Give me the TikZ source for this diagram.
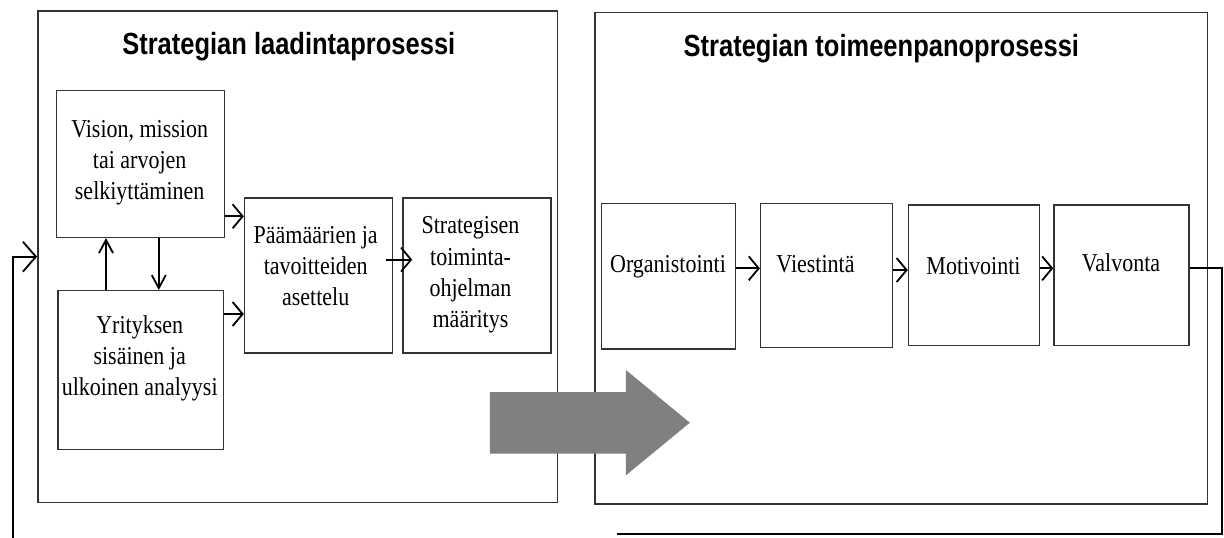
\documentclass[tikz,border=0pt]{standalone}
\usepackage{fontspec}
\setmainfont{Liberation Serif}
\newfontfamily\headfont{Liberation Sans}
\usepackage{graphicx}
\usetikzlibrary{arrows.meta}
\definecolor{flowgray}{RGB}{128,128,128}
% tall, centred text block (lines separated by \\)
\newcommand\tallc[1]{\scalebox{1}[1.17]{\begin{tabular}{@{}c@{}}#1\end{tabular}}}
\newcommand\tallhead[1]{\scalebox{1}[1.2]{#1}}

\begin{document}
\begin{tikzpicture}[x=1pt,y=-1pt,
  frame/.style={draw=black!80,line width=1.4pt,inner sep=0pt,anchor=north west},
  box/.style={draw=black!80,line width=1.3pt,inner sep=0pt,anchor=north west},
  head/.style={font=\headfont\bfseries\fontsize{25.5}{30}\selectfont,inner sep=0pt,anchor=base},
  txt/.style={font=\fontsize{22}{26.5}\selectfont,inner sep=0pt},
  harr/.style={line width=1.8pt,-{Straight Barb[length=10pt,width=24pt]}},
  varr/.style={line width=1.8pt,-{Straight Barb[length=13pt,width=14pt]}},
  fbarr/.style={line width=1.8pt,-{Straight Barb[length=13pt,width=30pt]}},
  fbline/.style={line width=2.2pt}
]
\path[use as bounding box,fill=white] (0,0) rectangle (1224,538);

% the two process frames
\node[frame,minimum width=519.7pt,minimum height=491.4pt] (lbox) at (37.1,10.3) {};
\node[frame,minimum width=612.4pt,minimum height=491.4pt] (rbox) at (594.1,12) {};

\node[head] (lhead) at (288.8,54.9) {\tallhead{Strategian laadintaprosessi}};
\node[head] (rhead) at (881.4,56.6) {\tallhead{Strategian toimeenpanoprosessi}};

% strategy formulation steps
\node[box,minimum width=168.4pt,minimum height=146.9pt] (vision) at (55.5,89.9) {};
\node[box,minimum width=165.7pt,minimum height=158.5pt] (yri) at (57.4,290) {};
\node[box,minimum width=147.7pt,minimum height=155.1pt] (paa) at (243.8,197.3) {};
\node[box,minimum width=148.1pt,minimum height=155.1pt] (str) at (402.2,197.3) {};

\node[txt] (vision-t) at (139.7,162.3) {\tallc{Vision, mission\\tai arvojen\\selkiyttäminen}};
\node[txt] (yri-t) at (139.7,358.3) {\tallc{Yrityksen\\sisäinen ja\\ulkoinen analyysi}};
\node[txt] (paa-t) at (315.7,268.3) {\tallc{Päämäärien ja\\tavoitteiden\\asettelu}};
\node[txt] (str-t) at (470.5,274.3) {\tallc{Strategisen\\toiminta-\\ohjelman\\määritys}};

% implementation steps
\node[box,minimum width=133.7pt,minimum height=145.8pt] (org) at (601,202.5) {};
\node[box,minimum width=131.6pt,minimum height=144.1pt] (vie) at (759.9,202.5) {};
\node[box,minimum width=131.2pt,minimum height=140.7pt] (mot) at (907.8,204.2) {};
\node[box,minimum width=134.9pt,minimum height=140.7pt] (val) at (1053.3,204.2) {};

\node[txt] (org-t) at (668,266.6) {\tallc{Organistointi}};
\node[txt] (vie-t) at (815.5,266.6) {\tallc{Viestintä}};
\node[txt] (mot-t) at (973.5,267.8) {\tallc{Motivointi}};
\node[txt] (val-t) at (1121,264.8) {\tallc{Valvonta}};

% connectors inside the formulation frame
\coordinate (c1) at ([yshift=21.8pt]vision.south east);
\draw[harr] (c1) -- (c1 -| paa.west);
\coordinate (c2) at ([yshift=-24pt]yri.north east);
\draw[harr] (c2) -- (c2 -| paa.west);
\draw[harr] ([xshift=-7pt,yshift=15.85pt]paa.east) -- ([xshift=10pt,yshift=15.85pt]str.west);
\coordinate (c4) at ([xshift=48.6pt]yri.north west);
\draw[varr] (c4) -- (c4 |- vision.south);
\coordinate (c5) at ([xshift=103.3pt]vision.south west);
\draw[varr] (c5) -- (c5 |- yri.north);

% connectors inside the implementation frame
\coordinate (c7) at ([yshift=7.7pt]org.east);
\draw[harr] (c7) -- (c7 -| vie.west);
\coordinate (c8) at ([yshift=5.15pt]vie.east);
\draw[harr] (c8) -- (c8 -| mot.west);
\coordinate (c9) at ([yshift=6.85pt]mot.east);
\draw[harr] (c9) -- (c9 -| val.west);

% feedback loop
\coordinate (fbR) at (616.5,533.6);
\coordinate (fbC) at (1221.6,533.6);
\draw[fbline] ([yshift=6.85pt]val.east) -| (fbC) -- (fbR);
\coordinate (fbL) at (12.6,540);
\draw[fbarr] (fbL) |- (lbox.west);

% transition arrow between the two processes
\fill[flowgray] (489.9,392) -- (625.9,392) -- (625.9,370) -- (689.8,422.7)
  -- (625.9,475.3) -- (625.9,453.7) -- (489.9,453.7) -- cycle;
\end{tikzpicture}
\end{document}
